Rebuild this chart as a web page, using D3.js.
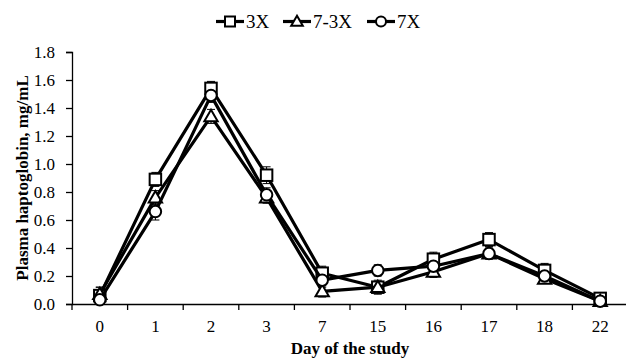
<!DOCTYPE html>
<html>
<head>
<meta charset="utf-8">
<script src="https://cdn.jsdelivr.net/npm/d3@7"></script>
<style>
  body { margin: 0; background: #fff; }
  svg text { font-family: "Liberation Serif", "Times New Roman", serif; fill: #000; }
</style>
</head>
<body>
<div id="chart"></div>
<script>

// chart values
var days = ["0", "1", "2", "3", "7", "15", "16", "17", "18", "22"];
var yTicks = [0, 0.2, 0.4, 0.6, 0.8, 1.0, 1.2, 1.4, 1.6, 1.8];

var series3X   = [0.06, 0.89, 1.54, 0.92, 0.22, 0.12, 0.32, 0.46, 0.24, 0.04];
var series73X  = [0.07, 0.76, 1.34, 0.76, 0.09, 0.12, 0.23, 0.36, 0.18, 0.02];
var series7X   = [0.03, 0.66, 1.49, 0.78, 0.17, 0.24, 0.27, 0.36, 0.20, 0.02];

var err3X  = [0.06, 0.05, 0.05, 0.06, 0.05, 0.04, 0.05, 0.05, 0.05, 0.03];
var err73X = [0.05, 0.05, 0.05, 0.04, 0.04, 0.05, 0.04, 0.03, 0.03, 0.02];
var err7X  = [0.03, 0.06, 0.05, 0.05, 0.05, 0.04, 0.04, 0.04, 0.03, 0.02];

var seriesNames = ["3X", "7-3X", "7X"];
var seriesSymbols = ["square", "triangle", "circle"];

var seriesList = [
    {name: seriesNames[0], symbol: seriesSymbols[0], values: series3X, err: err3X},
    {name: seriesNames[1], symbol: seriesSymbols[1], values: series73X, err: err73X},
    {name: seriesNames[2], symbol: seriesSymbols[2], values: series7X, err: err7X}
];

var serif = '"Liberation Serif", "Times New Roman", serif';

var margin = {top: 52, right: 0, bottom: 56, left: 72},
    width = 628 - margin.left - margin.right,
    height = 360 - margin.top - margin.bottom;

var svg = d3.select("#chart")
    .append("svg")
    .attr("width", 626)
    .attr("height", 360);

var g = svg.append("g")
    .attr("transform", "translate(" + margin.left + "," + margin.top + ")");

var x = d3.scaleBand()
    .domain(days)
    .range([0, width]);

var y = d3.scaleLinear()
    .domain([0, 1.8])
    .range([height, 0]);

// y axis
var yAxis = g.append("g")
    .attr("font-family", serif)
    .call(d3.axisLeft(y).tickValues(yTicks).tickSize(6).tickPadding(11)
        .tickFormat(d3.format(".1f")));
yAxis.attr("font-family", serif);
yAxis.select(".domain").attr("stroke", "#000").attr("stroke-width", 1.3);
yAxis.selectAll(".tick line").attr("stroke", "#000").attr("stroke-width", 1.3);
yAxis.selectAll("text").style("font-size", "17px").attr("dy", "0.34em");

// x axis - ticks sit on band edges
var xAxis = g.append("g")
    .attr("transform", "translate(0," + height + ")")
    .call(d3.axisBottom(x).tickSize(0));
xAxis.attr("font-family", serif);
xAxis.select(".domain").attr("stroke", "#000").attr("stroke-width", 1.3);
xAxis.selectAll("text")
    .style("font-size", "17px")
    .attr("y", 28)
    .attr("dy", 0);

var edges = days.map(function(d) { return x(d); }).concat([width - 1]);
g.append("g")
    .selectAll("line")
    .data(edges)
    .enter()
    .append("line")
    .attr("x1", function(d) { return d; })
    .attr("x2", function(d) { return d; })
    .attr("y1", height)
    .attr("y2", height + 6)
    .attr("stroke", "#000")
    .attr("stroke-width", 1.3);

// axis titles
svg.append("text")
    .attr("x", 350)
    .attr("y", 354)
    .attr("text-anchor", "middle")
    .style("font-size", "17px")
    .style("font-weight", "bold")
    .text("Day of the study");

svg.append("text")
    .attr("transform", "translate(28," + (52 + height / 2) + ") rotate(-90)")
    .attr("text-anchor", "middle")
    .style("font-size", "17px")
    .style("font-weight", "bold")
    .text("Plasma haptoglobin, mg/mL");

var cx = function(i) { return x(days[i]) + x.bandwidth() / 2; };

var line = d3.line()
    .x(function(d, i) { return cx(i); })
    .y(function(d) { return y(d); });

function drawMarker(sel, symbol, size) {
    if (symbol == "square") {
        sel.append("rect")
            .attr("x", -size / 2).attr("y", -size / 2)
            .attr("width", size).attr("height", size);
    } else if (symbol == "circle") {
        sel.append("circle").attr("r", size / 2);
    } else {
        var h = size * 0.95;
        sel.append("path")
            .attr("d", "M0," + (-h * 0.6) + "L" + (size * 0.58) + "," + (h * 0.45) + "L" + (-size * 0.58) + "," + (h * 0.45) + "Z");
    }
    sel.selectAll("*")
        .attr("fill", "#fff")
        .attr("stroke", "#000")
        .attr("stroke-width", 2);
}

// error bars first, then lines and markers
seriesList.forEach(function(s) {
    var eb = g.append("g").attr("class", "errbars");
    s.values.forEach(function(v, i) {
        var top = y(v + s.err[i]), bot = y(Math.max(0, v - s.err[i]));
        eb.append("line")
            .attr("x1", cx(i)).attr("x2", cx(i))
            .attr("y1", top).attr("y2", bot)
            .attr("stroke", "#000").attr("stroke-width", 1);
        eb.append("line")
            .attr("x1", cx(i) - 4).attr("x2", cx(i) + 4)
            .attr("y1", top).attr("y2", top)
            .attr("stroke", "#000").attr("stroke-width", 1);
        eb.append("line")
            .attr("x1", cx(i) - 4).attr("x2", cx(i) + 4)
            .attr("y1", bot).attr("y2", bot)
            .attr("stroke", "#000").attr("stroke-width", 1);
    });
});

seriesList.forEach(function(s) {
    g.append("path")
        .datum(s.values)
        .attr("fill", "none")
        .attr("stroke", "#000")
        .attr("stroke-width", 3.2)
        .attr("stroke-linejoin", "round")
        .attr("d", line);

    s.values.forEach(function(v, i) {
        var m = g.append("g")
            .attr("transform", "translate(" + cx(i) + "," + y(v) + ")");
        drawMarker(m, s.symbol, 11.5);
    });
});

// legend
var legendX = [216, 283, 367];
var legend = svg.append("g");
seriesList.forEach(function(s, i) {
    var lg = legend.append("g")
        .attr("transform", "translate(" + legendX[i] + ",21.5)");
    lg.append("line")
        .attr("x1", 0).attr("x2", 28)
        .attr("y1", 0).attr("y2", 0)
        .attr("stroke", "#000")
        .attr("stroke-width", 3.2);
    var m = lg.append("g").attr("transform", "translate(14,0)");
    drawMarker(m, s.symbol, 10);
    lg.append("text")
        .attr("x", 30)
        .attr("y", 6.5)
        .style("font-size", "19px")
        .text(s.name);
});

</script>
</body>
</html>
